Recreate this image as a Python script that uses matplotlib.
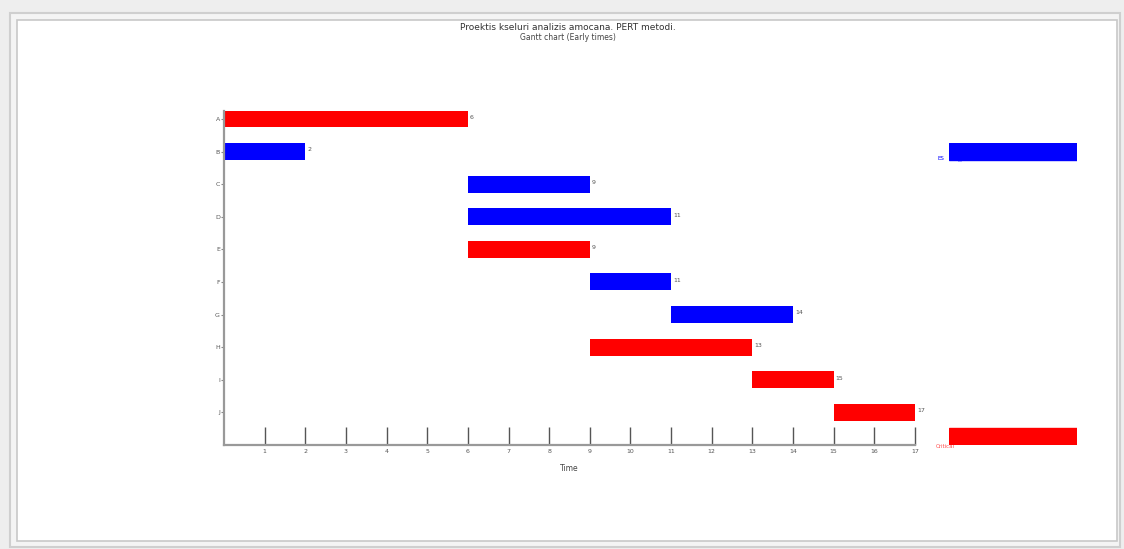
import matplotlib.pyplot as plt
from matplotlib.patches import Rectangle

tasks = ['A', 'B', 'C', 'D', 'E', 'F', 'G', 'H', 'I', 'J']
start = [0, 0, 6, 6, 6, 9, 11, 9, 13, 15]
finish = [6, 2, 9, 11, 9, 11, 14, 13, 15, 17]
critical = [True, False, False, False, True, False, False, True, True, True]
xticks = list(range(1, 18))

W, H = 1124, 549
fig = plt.figure(figsize=(W / 100, H / 100), dpi=100)
fig.patch.set_facecolor('#eeeeee')

# window panel, kept behind the axes
fig.patches.append(Rectangle((10 / W, 1 - 547 / H), 1110 / W, 534 / H, transform=fig.transFigure,
                             facecolor='#f4f4f4', edgecolor='#cfcfcf', lw=1.5, zorder=-10))
fig.patches.append(Rectangle((17 / W, 1 - 541 / H), 1100 / W, 521 / H, transform=fig.transFigure,
                             facecolor='white', edgecolor='#c8c8c8', lw=1.2, zorder=-9))

fig.text(0.505, 1 - 28 / H, 'Proektis kseluri analizis amocana. PERT metodi.', ha='center', va='center',
         fontsize=6.5, color='#333333')
fig.text(0.505, 1 - 38 / H, 'Gantt chart (Early times)', ha='center', va='center', fontsize=5.5, color='#444444')

ax = fig.add_axes([224 / W, 1 - 445 / H, 691 / W, (445 - 110.8) / H])
ax.patch.set_alpha(0)
rows = list(range(1, len(tasks) + 1))
colors = ['red' if c else 'blue' for c in critical]
ax.barh(rows, [f - s for s, f in zip(start, finish)], left=start, height=0.52, color=colors)
for r, f in zip(rows, finish):
    ax.text(f + 0.05, r - 0.05, str(f), fontsize=4.5, color='#555555', va='center', ha='left')

ax.set_xlim(0, 17)
ax.set_ylim(11, 0.75)
ax.set_xticks(xticks)
ax.set_xticklabels([str(t) for t in xticks])
ax.set_yticks(rows)
ax.set_yticklabels(tasks)
ax.tick_params(axis='x', direction='in', length=13, width=1, color='#555555', labelsize=4.5,
               labelcolor='#555555', pad=3)
ax.tick_params(axis='y', direction='out', length=2, width=0.8, color='#888888', labelsize=4.5,
               labelcolor='#555555', pad=1)
for s in ['top', 'right']:
    ax.spines[s].set_visible(False)
for s in ['left', 'bottom']:
    ax.spines[s].set_color('#999999')
    ax.spines[s].set_linewidth(1.6)
ax.set_xlabel('Time', fontsize=5.5, color='#444444', labelpad=7)

# legend boxes outside the plot
leg = fig.add_axes([949 / W, 1 - 445 / H, 128 / W, (445 - 143) / H])
leg.set_xlim(0, 1)
leg.set_ylim(0, 1)
leg.axis('off')
hb = 17 / (445 - 143)
leg.add_patch(Rectangle((0, 1 - hb), 1, hb, color='blue'))
leg.add_patch(Rectangle((0, 0), 1, hb, color='red'))
fig.text(937 / W, 1 - 159 / H, 'ES', fontsize=4, color='blue', ha='left', va='center')
fig.text(958 / W, 1 - 160 / H, 'EF', fontsize=4, color='blue', ha='left', va='center', alpha=0.6)
fig.text(936 / W, 1 - 446 / H, 'Critical', fontsize=4, color='red', ha='left', va='center', alpha=0.7)

fig.savefig('out.png', dpi=100)
